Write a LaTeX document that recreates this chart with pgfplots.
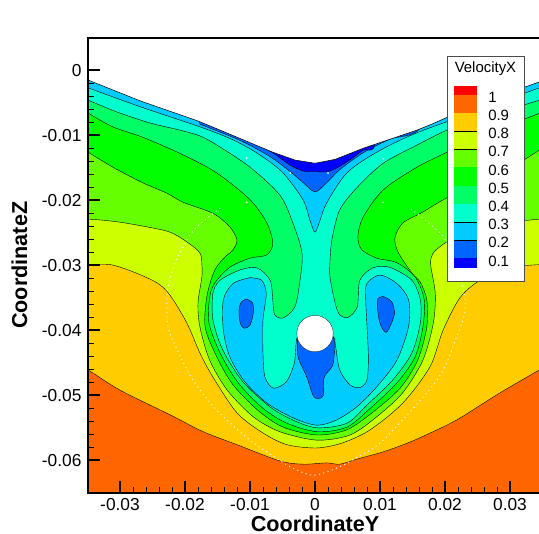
\documentclass[border=0pt]{standalone}
\usepackage{pgfplots}
\pgfplotsset{compat=1.18}
\usepackage{fontspec}
\setmainfont{Liberation Sans}
\definecolor{c0}{HTML}{FF6600}
\definecolor{c1}{HTML}{FFCC00}
\definecolor{c2}{HTML}{CCFF00}
\definecolor{c3}{HTML}{66FF00}
\definecolor{c4}{HTML}{00FF00}
\definecolor{c5}{HTML}{00FF66}
\definecolor{c6}{HTML}{00FFCC}
\definecolor{c7}{HTML}{00CCFF}
\definecolor{c8}{HTML}{0066FF}
\definecolor{c9}{HTML}{0000FF}
\pgfplotsset{cont/.style={draw=black,line width=0.3pt,smooth,tension=0.5,fill=#1}}
\begin{document}
\begin{tikzpicture}[x=0.75pt,y=-0.75pt]
\clip (0,0) rectangle (539,534);
\coordinate (A) at (87.5,492.8);
\begin{axis}[
  at={(A)},anchor=south west,
  scale only axis,width=341.25pt,height=341.25pt,
  xmin=-35,xmax=35,ymin=-65,ymax=5,
  axis on top,
  xtick={-30,-20,-10,0,10,20,30},
  xticklabels={-0.03,-0.02,-0.01,0,0.01,0.02,0.03},
  ytick={0,-10,-20,-30,-40,-50,-60},
  yticklabels={0,-0.01,-0.02,-0.03,-0.04,-0.05,-0.06},
  minor tick num=4,
  tick pos=left,tick align=inside,
  major tick length=9pt,minor tick length=4.5pt,
  major tick style={line width=1.5pt,black},
  minor tick style={line width=0.5pt,black},
  axis line style={line width=1.5pt,black},
  tick label style={font=\fontsize{13}{15}\selectfont},
  xticklabel style={yshift=-1pt},
  yticklabel style={xshift=-1pt},
  xlabel={\bfseries CoordinateY},
  ylabel={\bfseries CoordinateZ},
  label style={font=\fontsize{16.2}{18}\selectfont},
  xlabel style={yshift=3pt},
  ylabel style={yshift=4pt},
]
% base: band 0.9-1
\addplot[fill=c0,draw=none] coordinates {(-40,-70)(40,-70)(40,10)(-40,10)} --cycle;
% 0.9 contour
\addplot[cont=c1] coordinates {(-40,-42.9)(-34.9,-46.1)(-30,-49.2)(-22.3,-53)(-17.2,-55.6)(-12,-57.6)(-5.4,-60.1)(-1.8,-60.6)(1.8,-60.4)(3.8,-60.6)(6.5,-59.8)(10.5,-58.7)(14.6,-57.2)(18.8,-55.3)(22.3,-53.5)(28.5,-49.6)(34.5,-46.1)(40,-42.7)(42,10)(-42,10)} --cycle;
% 0.8 contour
\addplot[cont=c2] coordinates {(-40,-29.9)(-34.9,-29.9)(-31.5,-29.9)(-28,-31)(-24.3,-32.7)(-22.3,-34.6)(-19.7,-38.9)(-17.7,-43.5)(-15.7,-47.2)(-12,-52.7)(-8,-55.8)(-4.3,-57.6)(0.3,-58.1)(4.3,-57.3)(8.5,-55.3)(13.5,-51.2)(17.7,-45.6)(19.7,-40)(22.3,-35)(25.4,-32.3)(30,-30.4)(34.5,-29.9)(40,-29.9)(42,10)(-42,10)} --cycle;
% 0.7 contour
\addplot[cont=c3] coordinates {(-40,-22.9)(-34.9,-22.9)(-30.5,-23.3)(-25.8,-24.1)(-22.3,-24.9)(-19.7,-26.4)(-17.7,-28.1)(-17.4,-29.9)(-17.4,-31.8)(-18,-35.8)(-17.7,-39.5)(-16.2,-44.6)(-13.5,-49.2)(-9.5,-53.3)(-5.4,-55.6)(0.3,-56.9)(5.4,-56.1)(9.5,-53.3)(13.5,-49.6)(16.6,-44.6)(18.2,-38.9)(18.5,-34.3)(17.8,-29.9)(18.2,-28.1)(20.3,-26.4)(23.8,-24.9)(28.5,-23.6)(34.5,-22.9)(40,-22.5)(42,10)(-42,10)} --cycle;
% 0.6 contour
\addplot[cont=c4] coordinates {(-40,-9.5)(-34.9,-12.6)(-31.1,-14.9)(-26.5,-17.3)(-22.8,-18.9)(-20.3,-20.3)(-15.7,-22)(-13.1,-24.1)(-12,-26.1)(-12.6,-27.6)(-13.8,-28.7)(-15.4,-30.7)(-16.6,-34.6)(-16.9,-39.5)(-15.1,-44.1)(-12.6,-48.4)(-8.8,-52.3)(-4.9,-54.9)(0.3,-56.1)(4.9,-55.3)(8.9,-52.6)(13.1,-48.9)(15.8,-44.6)(17.2,-39.5)(17.2,-35.3)(16.2,-32.6)(14.9,-31.2)(12.8,-28)(12.3,-25.8)(13.5,-23.5)(16.6,-21.8)(20.3,-19.6)(25.4,-17.3)(30.8,-14.6)(34.5,-12.3)(40,-9)(42,10)(-42,10)} --cycle;
% 0.5 contour
\addplot[cont=c5] coordinates {(-40,-3.7)(-34.9,-6.6)(-31.1,-8.7)(-26.5,-10.3)(-20.3,-13)(-15.1,-15.8)(-10,-19.9)(-7.4,-23.5)(-6.5,-26.6)(-7.4,-28.4)(-10,-28.9)(-13.1,-30.3)(-15.4,-32.7)(-16.2,-34.9)(-16.3,-38.9)(-14.6,-43.5)(-11.8,-48.1)(-8,-52)(-4.3,-54.3)(0.3,-55.6)(4.9,-54.9)(8.5,-52)(12.6,-48.1)(15.4,-44.1)(16.6,-39.5)(16.8,-35.3)(15.4,-31.8)(12.6,-29.6)(9.5,-28.9)(7.2,-27.6)(6.6,-25.6)(7.4,-22.6)(10.5,-18.4)(15.7,-14.9)(20.3,-12.6)(25.4,-10)(34.5,-6.6)(40,-3.5)(42,10)(-42,10)} --cycle;
% 0.4 contour
\addplot[cont=c6] coordinates {(-40,-2.5)(-34.9,-4.6)(-30.5,-6.4)(-25.4,-8.1)(-20.8,-9.2)(-17.7,-10.1)(-15.1,-11.5)(-10,-14.9)(-5.4,-19.2)(-3.4,-23.5)(-2,-28.1)(-2.3,-32.3)(-3.1,-36.4)(-4.9,-38.1)(-6.2,-37.6)(-6.5,-35.3)(-6.9,-32.3)(-8.9,-30.4)(-11.5,-30.7)(-14.6,-32.3)(-15.7,-34.3)(-15.7,-38.4)(-14.2,-43)(-11.1,-47.9)(-6.9,-51.8)(-3.4,-53.8)(0.3,-55)(4.9,-54.3)(8,-51.5)(12,-47.6)(14.9,-43.5)(16.2,-38.9)(16.2,-35.3)(14.9,-32.3)(11.5,-30.3)(8.9,-30.4)(6.9,-32.3)(6.5,-36.4)(5.1,-38)(3.8,-37.6)(3.1,-35.8)(2.3,-31.8)(2.3,-29.6)(2.6,-26.1)(3.8,-21.5)(6.5,-18)(10.5,-14.3)(15.7,-11.5)(20.3,-9.2)(25.4,-7.3)(34.5,-4.6)(40,-2.5)(42,10)(-42,10)} --cycle;
% 0.3 contour, top
\addplot[cont=c7] coordinates {(-40,-0.8)(-34.9,-2.7)(-26.9,-5.6)(-17.7,-8.7)(-12.6,-10.7)(-8.5,-13)(-4.9,-15.8)(-1.8,-20)(-0.8,-23)(0,-24.9)(0.8,-23)(1.8,-20.4)(4.9,-15.8)(9.5,-12.6)(15.7,-9.6)(25.4,-6.1)(34.5,-2.7)(40,-0.8)(42,10)(-42,10)} --cycle;
% 0.3 contour, inner
\addplot[cont=c7] coordinates {(-10,-31.9)(-8.2,-32.3)(-7.5,-34.4)(-8,-38.4)(-8,-43.6)(-7.7,-47.2)(-6.4,-48.9)(-4.4,-47.9)(-3.2,-45.1)(-2.9,-42)(-2.6,-41)(0,-40.7)(2.8,-41)(3.1,-42)(3.8,-46.1)(5.4,-48.4)(6.9,-48.8)(8,-47.6)(8.2,-43.6)(7.8,-35.3)(8,-32.8)(10,-31.5)(12.6,-32.8)(14.4,-35.3)(14.4,-39.4)(12.6,-44.6)(9.5,-48.7)(6.4,-51.8)(3.3,-53.8)(0.3,-54.6)(-3.3,-53.5)(-7.4,-51.2)(-10.8,-47.9)(-13.1,-44.1)(-14.1,-40)(-14.1,-35.3)(-12.6,-32.8)(-10,-31.9)} --cycle;
% 0.2 contour
\addplot[cont=c8] coordinates {(-17.7,-8.3)(-11.5,-10.8)(-6.9,-13.3)(-3.8,-15.6)(-1.8,-17.3)(0,-18.7)(1.8,-17.3)(3.8,-15.3)(7.4,-12.7)(11.5,-10.6)(16.2,-8.9)(20,0)(-20,0)} --cycle;
\addplot[cont=c8] coordinates {(-2.7,-41)(-2.6,-44.1)(-1.3,-47.1)(-0.3,-50)(0.5,-50.5)(1.3,-50)(1.3,-47.6)(1.8,-46.6)(2.8,-45.1)(2.8,-41)(0,-40.7)} --cycle;
\addplot[cont=c8] coordinates {(-10.5,-35.2)(-9.6,-35.8)(-9.5,-37.4)(-10,-39.2)(-10.9,-39.7)(-11.5,-38.9)(-11.7,-36.9)(-11.3,-35.6)(-10.5,-35.2)} --cycle;
\addplot[cont=c8] coordinates {(10.5,-34.8)(11.8,-35.6)(12.2,-37.6)(11,-40.3)(10,-38.9)(9.6,-36.4)(9.7,-35.1)(10.5,-34.8)} --cycle;
% 0.1 contour
\addplot[cont=c9] coordinates {(-9.2,-11.3)(-6.5,-12.7)(-3.8,-14.6)(-1.8,-15.5)(0,-15.6)(2.3,-15.5)(4.9,-14.1)(7.4,-12.3)(9.2,-11.3)(9,0)(-9,0)} --cycle;
% white above the upper boundary
\addplot[fill=white,draw=black,line width=0.4pt] coordinates {(-40,0.3)(-34.9,-1.5)(-26.9,-4.7)(-18,-7.8)(-14.6,-9.2)(-6.5,-12.6)(-3.1,-13.8)(0,-14.3)(3.1,-13.7)(7.4,-12)(15.7,-9.2)(17.7,-8.4)(25.4,-5)(34.5,-1.8)(40,0)(40,10)(-40,10)} --cycle;
% white seam dots
\addplot[white,dash pattern=on 0.8pt off 2.6pt,line width=0.7pt,smooth] coordinates {(-14.6,-21.2)(-18.2,-24.1)(-19.7,-26.1)(-21.5,-29.6)(-22.6,-33.3)(-22.8,-35.8)(-22.6,-39.5)(-21.2,-43)(-18.8,-47.6)(-15.1,-52.3)(-10,-56.9)(-5.4,-60)(-3.8,-61)(-0.3,-62.3)(3.8,-61)(6.5,-59.5)(10.5,-56.9)(18.8,-47.6)(21.8,-41)(23.1,-36.9)(22.6,-32.7)(20.3,-26.6)(18.8,-24.6)(14.6,-21.2)};
\addplot[only marks,mark=*,mark size=0.4pt,white] coordinates {(-10.5,-13.5)(-10.5,-20.3)(10.5,-13.6)(10.5,-20.3)(-3.8,-15.8)(2,-15.8)};
% cylinder
\fill[white] (axis cs:0,-40.5) circle [radius=2.8];
\draw[black,line width=0.2pt] (axis cs:0,-40.5) circle [radius=2.8];
\end{axis}
% contour legend
\fill[white] (447,56) rectangle (524,281);
\draw[black!70,line width=0.5pt] (447,56) rectangle (524,281);
\node[anchor=west,inner sep=0pt,font=\fontsize{11.2}{13}\selectfont] at (454.5,69) {VelocityX};
\fill[red] (454,86) rectangle (477,95);
\fill[c0] (454,95) rectangle (477,113);
\fill[c1] (454,113) rectangle (477,131);
\fill[c2] (454,131) rectangle (477,149.3);
\fill[c3] (454,149.3) rectangle (477,167.4);
\fill[c4] (454,167.4) rectangle (477,185.6);
\fill[c5] (454,185.6) rectangle (477,203.8);
\fill[c6] (454,203.8) rectangle (477,222);
\fill[c7] (454,222) rectangle (477,240.2);
\fill[c8] (454,240.2) rectangle (477,258.4);
\fill[c9] (454,258.4) rectangle (477,268);
\foreach \yy in {131,149.3,222,240.2}{\draw[black,line width=0.25pt] (454,\yy) -- (477,\yy);}
\foreach \lab/\yy in {1/97.2,0.9/115.4,0.8/133.6,0.7/151.8,0.6/170,0.5/188.2,0.4/206.4,0.3/224.6,0.2/242.8,0.1/261}{
  \node[anchor=west,inner sep=0pt,font=\fontsize{11.2}{13}\selectfont] at (488,\yy) {\lab};}
\end{tikzpicture}
\end{document}
